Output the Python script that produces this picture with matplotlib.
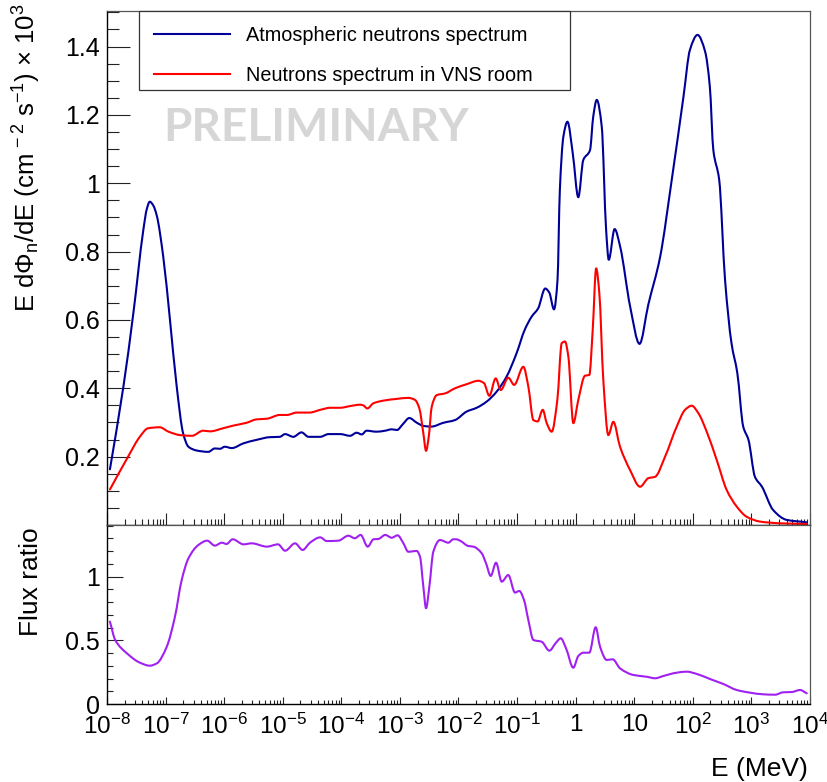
import numpy as np
import matplotlib
matplotlib.use("Agg")
import matplotlib.pyplot as plt
from matplotlib.path import Path
from matplotlib.patches import PathPatch, Rectangle
from matplotlib.lines import Line2D
from matplotlib.ticker import (LogLocator, FixedLocator, MultipleLocator,
                               FuncFormatter, NullFormatter)

plt.rcParams["font.family"] = ["Liberation Sans", "DejaVu Sans"]
plt.rcParams["mathtext.fontset"] = "custom"
plt.rcParams["mathtext.rm"] = "Liberation Sans"
plt.rcParams["mathtext.it"] = "Liberation Sans:italic"
plt.rcParams["mathtext.default"] = "regular"

# ---- spectra: log10(E / MeV) and E dPhi/dE (x 1e-3 cm^-2 s^-1) ----
log_e_atm = [-7.95, -7.72, -7.55, -7.38, -7.32, -7.27, -7.21, -7.15, -7.04, -6.925,
             -6.81, -6.70, -6.61, -6.47, -6.27, -6.16, -6.07, -5.99, -5.87, -5.67,
             -5.45, -5.22, -5.05, -4.96, -4.82, -4.68, -4.56, -4.36, -4.22, -4.02,
             -3.85, -3.74, -3.65, -3.57, -3.40, -3.25, -3.14, -3.05, -2.95, -2.84,
             -2.71, -2.60, -2.46, -2.26, -2.06, -1.86, -1.69, -1.52, -1.35, -1.18,
             -1.01, -0.87, -0.75, -0.64, -0.52, -0.45, -0.37, -0.31, -0.27, -0.21,
             -0.14, -0.05, 0.045, 0.13, 0.245, 0.30, 0.36, 0.445, 0.52, 0.565,
             0.665, 0.76, 0.93, 1.09, 1.24, 1.44, 1.64, 1.84, 1.95, 2.08,
             2.21, 2.29, 2.35, 2.45, 2.55, 2.66, 2.76, 2.86, 2.95, 3.06,
             3.18, 3.37, 3.60, 3.94]
flux_atm = [0.163, 0.405, 0.620, 0.863, 0.925, 0.946, 0.935, 0.905, 0.785, 0.600,
            0.405, 0.268, 0.229, 0.218, 0.214, 0.224, 0.223, 0.229, 0.225, 0.239,
            0.249, 0.257, 0.258, 0.266, 0.258, 0.271, 0.258, 0.258, 0.266, 0.266,
            0.261, 0.270, 0.265, 0.276, 0.273, 0.276, 0.280, 0.278, 0.295, 0.313,
            0.299, 0.290, 0.288, 0.299, 0.307, 0.332, 0.343, 0.361, 0.390, 0.434,
            0.502, 0.571, 0.610, 0.634, 0.692, 0.680, 0.631, 0.717, 0.980, 1.136,
            1.180, 1.088, 0.959, 1.068, 1.097, 1.195, 1.244, 1.166, 0.863, 0.776,
            0.866, 0.814, 0.639, 0.530, 0.645, 0.783, 1.010, 1.253, 1.390, 1.434,
            1.385, 1.283, 1.097, 1.010, 0.717, 0.532, 0.444, 0.288, 0.249, 0.141,
            0.112, 0.044, 0.015, 0.008]

log_e_vns = [-7.95, -7.64, -7.44, -7.30, -7.10, -6.95, -6.75, -6.55, -6.36, -6.24,
             -6.02, -5.84, -5.62, -5.45, -5.27, -5.05, -4.93, -4.76, -4.54, -4.36,
             -4.19, -4.02, -3.85, -3.68, -3.625, -3.556, -3.454, -3.28, -3.055, -2.857,
             -2.742, -2.668, -2.60, -2.554, -2.508, -2.457, -2.372, -2.23, -2.06, -1.86,
             -1.66, -1.564, -1.474, -1.365, -1.279, -1.15, -1.05, -0.893, -0.808, -0.722,
             -0.65, -0.562, -0.494, -0.409, -0.313, -0.238, -0.182, -0.125, -0.04, 0.045,
             0.16, 0.233, 0.291, 0.35, 0.404, 0.472, 0.558, 0.643, 0.757, 0.928,
             1.099, 1.241, 1.355, 1.526, 1.725, 1.867, 1.981, 2.095, 2.237, 2.408,
             2.579, 2.749, 2.92, 3.147, 3.488, 3.944]
flux_vns = [0.104, 0.200, 0.258, 0.283, 0.286, 0.273, 0.263, 0.261, 0.276, 0.274,
            0.283, 0.291, 0.299, 0.309, 0.311, 0.322, 0.322, 0.329, 0.329, 0.337,
            0.343, 0.343, 0.348, 0.352, 0.350, 0.341, 0.356, 0.364, 0.369, 0.372,
            0.366, 0.341, 0.268, 0.217, 0.258, 0.346, 0.380, 0.385, 0.400, 0.412,
            0.422, 0.415, 0.378, 0.429, 0.395, 0.431, 0.410, 0.463, 0.405, 0.307,
            0.303, 0.337, 0.298, 0.273, 0.366, 0.532, 0.537, 0.493, 0.298, 0.366,
            0.437, 0.439, 0.571, 0.751, 0.678, 0.424, 0.263, 0.302, 0.229, 0.161,
            0.112, 0.137, 0.141, 0.200, 0.288, 0.337, 0.349, 0.327, 0.273, 0.190,
            0.102, 0.054, 0.024, 0.010, 0.005, 0.003]

# ---- flux ratio (VNS room / atmospheric) ----
log_e_ratio = [-7.95, -7.86, -7.66, -7.44, -7.27, -7.15, -6.98, -6.84, -6.725, -6.61,
               -6.44, -6.29, -6.16, -6.04, -5.96, -5.855, -5.67, -5.53, -5.27, -5.08,
               -4.96, -4.79, -4.66, -4.535, -4.36, -4.25, -4.05, -3.88, -3.77, -3.67,
               -3.55, -3.45, -3.37, -3.25, -3.14, -3.04, -2.94, -2.857, -2.713, -2.657,
               -2.60, -2.554, -2.498, -2.43, -2.316, -2.174, -2.088, -2.042, -1.974, -1.832,
               -1.747, -1.604, -1.53, -1.45, -1.359, -1.262, -1.15, -1.035, -0.962, -0.882,
               -0.808, -0.722, -0.58, -0.45, -0.335, -0.255, -0.165, -0.04, 0.045, 0.131,
               0.233, 0.342, 0.416, 0.53, 0.632, 0.757, 0.985, 1.213, 1.355, 1.497,
               1.725, 1.896, 2.067, 2.294, 2.521, 2.749, 2.976, 3.204, 3.403, 3.545,
               3.688, 3.83, 3.944]
ratio = [0.647, 0.503, 0.398, 0.325, 0.301, 0.319, 0.450, 0.686, 0.974, 1.144,
         1.249, 1.283, 1.244, 1.267, 1.257, 1.294, 1.254, 1.262, 1.236, 1.254,
         1.204, 1.262, 1.210, 1.267, 1.309, 1.280, 1.283, 1.322, 1.302, 1.328,
         1.236, 1.294, 1.296, 1.328, 1.306, 1.325, 1.262, 1.196, 1.202, 1.157,
         0.921, 0.752, 0.921, 1.196, 1.288, 1.267, 1.294, 1.294, 1.283, 1.241,
         1.236, 1.184, 1.105, 1.006, 1.110, 0.961, 1.013, 0.875, 0.888, 0.817,
         0.660, 0.503, 0.489, 0.419, 0.482, 0.516, 0.438, 0.285, 0.377, 0.403,
         0.403, 0.603, 0.450, 0.346, 0.351, 0.280, 0.228, 0.214, 0.202, 0.220,
         0.246, 0.254, 0.236, 0.196, 0.157, 0.110, 0.089, 0.076, 0.073, 0.092,
         0.094, 0.110, 0.084]

top_yticks = [0.2, 0.4, 0.6, 0.8, 1.0, 1.2, 1.4]
ratio_yticks = [0, 0.5, 1]

C_ATM = "#000099"
C_VNS = "#ff0000"
C_RATIO = "#a020f0"
LW = 1.5


def smooth_curve(log_x, y):
    """Monotone cubic (Bezier) path through the points, in log10(E) space."""
    x = np.asarray(log_x, float)
    y = np.asarray(y, float)
    h = np.diff(x)
    d = np.diff(y) / h
    m = np.zeros_like(x)
    m[0], m[-1] = d[0], d[-1]
    for k in range(1, len(x) - 1):
        if d[k - 1] * d[k] > 0:
            w1 = 2 * h[k] + h[k - 1]
            w2 = h[k] + 2 * h[k - 1]
            m[k] = (w1 + w2) / (w1 / d[k - 1] + w2 / d[k])
    verts = [(x[0], y[0])]
    codes = [Path.MOVETO]
    for k in range(len(x) - 1):
        verts += [(x[k] + h[k] / 3, y[k] + m[k] * h[k] / 3),
                  (x[k + 1] - h[k] / 3, y[k + 1] - m[k + 1] * h[k] / 3),
                  (x[k + 1], y[k + 1])]
        codes += [Path.CURVE4] * 3
    verts = np.array(verts)
    verts[:, 0] = 10 ** verts[:, 0]
    return Path(verts, codes)


def draw_curve(ax, log_x, y, color):
    ax.add_patch(PathPatch(smooth_curve(log_x, y), fill=False, edgecolor=color,
                           lw=LW, joinstyle="round", capstyle="round", zorder=2))


fig = plt.figure(figsize=(8.28, 7.82), dpi=100)
W, H = 828.0, 782.0
ax1 = fig.add_axes([107 / W, 1 - 525 / H, 703 / W, 514 / H])
ax2 = fig.add_axes([107 / W, 1 - 704 / H, 703 / W, 179 / H], sharex=ax1)

ax1.set_xscale("log")
ax1.set_xlim(1e-8, 1e4)
ax1.set_ylim(0, 1.504)
ax2.set_ylim(0, 1.406)

draw_curve(ax1, log_e_atm, flux_atm, C_ATM)
draw_curve(ax1, log_e_vns, flux_vns, C_VNS)
draw_curve(ax2, log_e_ratio, ratio, C_RATIO)

for ax in (ax1, ax2):
    for side in ("top", "right"):
        ax.spines[side].set_color("#555555")
        ax.spines[side].set_linewidth(0.9)
    for side in ("left", "bottom"):
        ax.spines[side].set_color("black")
        ax.spines[side].set_linewidth(1.0)
    ax.tick_params(which="both", direction="in", top=False, right=False,
                   color="#222222", width=0.8, labelsize=18)
    ax.xaxis.set_major_locator(LogLocator(base=10, numticks=20))
    ax.xaxis.set_minor_locator(LogLocator(base=10, subs=np.arange(2, 10), numticks=200))

# upper panel ticks
ax1.yaxis.set_major_locator(FixedLocator(top_yticks))
ax1.yaxis.set_minor_locator(MultipleLocator(0.05))
ax1.yaxis.set_major_formatter(FuncFormatter(lambda v, p: f"{v:g}"))
ax1.tick_params(axis="y", which="major", length=16.5, pad=5)
ax1.tick_params(axis="y", which="minor", length=8.6)
ax1.tick_params(axis="x", which="major", length=8.6, labelbottom=False)
ax1.tick_params(axis="x", which="minor", length=4.3)

# lower panel ticks
ax2.yaxis.set_major_locator(FixedLocator(ratio_yticks))
ax2.yaxis.set_minor_locator(MultipleLocator(0.1))
ax2.yaxis.set_major_formatter(FuncFormatter(lambda v, p: f"{v:g}"))
ax2.tick_params(axis="y", which="major", length=11.5, pad=5)
ax2.tick_params(axis="y", which="minor", length=4.3)
ax2.tick_params(axis="x", which="major", length=4.8, pad=7, labelsize=17.5)
ax2.tick_params(axis="x", which="minor", length=2.9)
ax2.xaxis.set_minor_formatter(NullFormatter())


def energy_label(v, pos):
    e = int(round(np.log10(v)))
    if e == 0:
        return "1"
    if e == 1:
        return "10"
    return f"$10^{{{e}}}$"


ax2.xaxis.set_major_formatter(FuncFormatter(energy_label))

# axis titles
ax1.set_ylabel(r"E d$\Phi_{n}$/dE (cm$^{\,-2}$ s$^{-1}$) $\times$ 10$^{3}$",
               fontsize=18.5, loc="top")
ax1.yaxis.set_label_coords(-0.091, 1.014)
ax2.set_ylabel("Flux ratio", fontsize=19, loc="top")
ax2.yaxis.set_label_coords(-0.091, 0.985)
ax2.set_xlabel("E (MeV)", fontsize=19, loc="right")
ax2.xaxis.set_label_coords(0.997, -0.295)

# watermark
ax1.text(0.297, 0.772, "PRELIMINARY", transform=ax1.transAxes, ha="center",
         va="center", fontsize=33, fontweight="bold", color="#d6d6d6",
         family=["Lato", "DejaVu Sans"], zorder=0)

# legend: boxed frame spanning the upper-left part of the panel
LEG_X0, LEG_Y0, LEG_W, LEG_H = 0.0455, 0.846, 0.613, 0.154
ax1.add_patch(Rectangle((LEG_X0, LEG_Y0), LEG_W, LEG_H, transform=ax1.transAxes,
                        facecolor="white", edgecolor="#333333", lw=0.9, zorder=4,
                        clip_on=False))
handles = [Line2D([], [], color=C_ATM, lw=LW, label="Atmospheric neutrons spectrum"),
           Line2D([], [], color=C_VNS, lw=LW, label="Neutrons spectrum in VNS room")]
leg = ax1.legend(handles=handles, loc="upper left",
                 bbox_to_anchor=(LEG_X0, LEG_Y0, LEG_W, LEG_H),
                 mode="expand", borderaxespad=0, fontsize=14.3, handlelength=3.83,
                 handletextpad=0.8, borderpad=0.75, labelspacing=1.05,
                 frameon=False)
leg.set_zorder(5)

fig.savefig("out.png", dpi=100)
